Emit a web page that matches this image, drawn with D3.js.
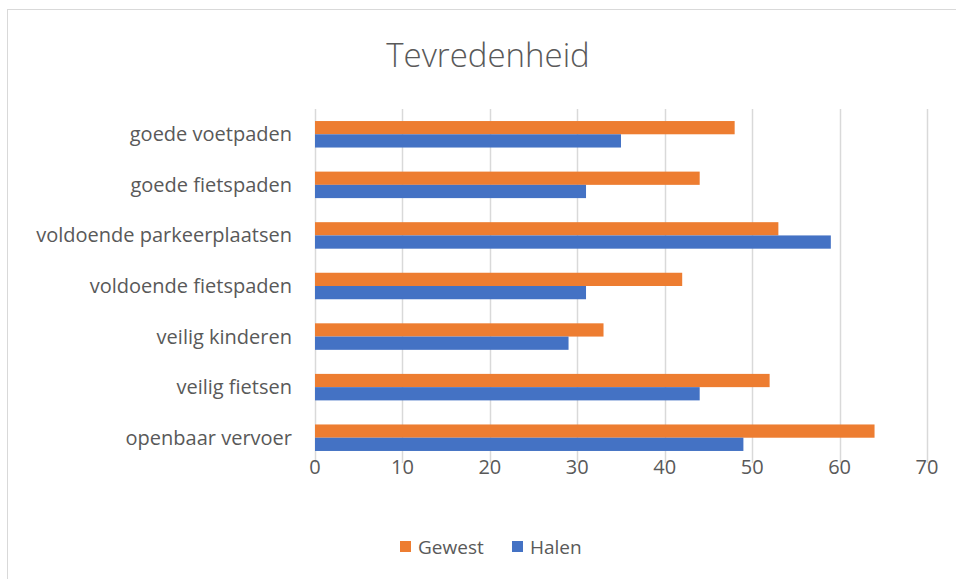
<!DOCTYPE html>
<html>
<head>
<meta charset="utf-8">
<script src="https://cdn.jsdelivr.net/npm/d3@7"></script>
<style>
  body { margin: 0; background: #fff; }
  text { font-family: "Open Sans", sans-serif; fill: #595959; }
</style>
</head>
<body>
<svg id="chart"></svg>
<script>
// data
var categories = ["goede voetpaden", "goede fietspaden", "voldoende parkeerplaatsen",
    "voldoende fietspaden", "veilig kinderen", "veilig fietsen", "openbaar vervoer"];
var seriesNames = ["Gewest", "Halen"];
var gewest = [48, 44, 53, 42, 33, 52, 64];
var halen = [35, 31, 59, 31, 29, 44, 49];
var xTicks = [0, 10, 20, 30, 40, 50, 60, 70];

var width = 956;
var height = 579;
var color = d3.scaleOrdinal().domain(seriesNames).range(["#ED7D31", "#4472C4"]);

var svg = d3.select("#chart").attr("width", width).attr("height", height);

// chart border
svg.append("rect")
    .attr("x", 7.5).attr("y", 9.5)
    .attr("width", 960).attr("height", 600)
    .attr("fill", "none")
    .attr("stroke", "#d9d9d9");

var x = d3.scaleLinear().domain([0, 70]).range([315, 927]);
var y0 = d3.scaleBand().domain(categories).range([109, 463])
    .paddingInner(0.476).paddingOuter(0.238);
var y1 = d3.scaleBand().domain(seriesNames).range([0, y0.bandwidth()]);

// gridlines
svg.append("g")
    .selectAll("line")
    .data(xTicks)
    .enter().append("line")
    .attr("x1", function (d) { return Math.round(x(d)) + 0.5; })
    .attr("x2", function (d) { return Math.round(x(d)) + 0.5; })
    .attr("y1", 109)
    .attr("y2", 463)
    .style("stroke", "#d9d9d9")
    .style("stroke-width", 1.5);

var rows = categories.map(function (c, i) {
    return { cat: c, values: [{ key: "Gewest", v: gewest[i] }, { key: "Halen", v: halen[i] }] };
});

var group = svg.append("g")
    .selectAll("g")
    .data(rows)
    .enter().append("g")
    .attr("transform", function (d) { return "translate(0," + y0(d.cat) + ")"; });

group.selectAll("rect")
    .data(function (d) { return d.values; })
    .enter().append("rect")
    .attr("x", x(0))
    .attr("y", function (d) { return y1(d.key); })
    .attr("width", function (d) { return x(d.v) - x(0); })
    .attr("height", y1.bandwidth())
    .attr("fill", function (d) { return color(d.key); });

// category labels
svg.append("g")
    .selectAll("text")
    .data(categories)
    .enter().append("text")
    .attr("x", 292)
    .attr("y", function (d) { return y0(d) + y0.bandwidth() / 2; })
    .attr("dy", "0.35em")
    .style("text-anchor", "end")
    .style("font-size", "20px")
    .text(function (d) { return d; });

// x tick labels
svg.append("g")
    .selectAll("text")
    .data(xTicks)
    .enter().append("text")
    .attr("x", function (d) { return x(d); })
    .attr("y", 474)
    .style("text-anchor", "middle")
    .style("font-size", "20px")
    .text(function (d) { return d; });

// title
svg.append("text")
    .attr("x", 488)
    .attr("y", 67)
    .style("text-anchor", "middle")
    .style("font-size", "33px")
    .style("font-weight", 300)
    .text("Tevredenheid");

// legend
var legend = svg.append("g")
    .selectAll("g")
    .data(seriesNames)
    .enter().append("g")
    .attr("transform", function (d, i) { return "translate(" + (400 + i * 112) + ",541)"; });

legend.append("rect")
    .attr("width", 11).attr("height", 11)
    .attr("fill", function (d) { return color(d); });

legend.append("text")
    .attr("x", 18)
    .attr("y", 13)
    .style("font-size", "19px")
    .text(function (d) { return d; });
</script>
</body>
</html>
